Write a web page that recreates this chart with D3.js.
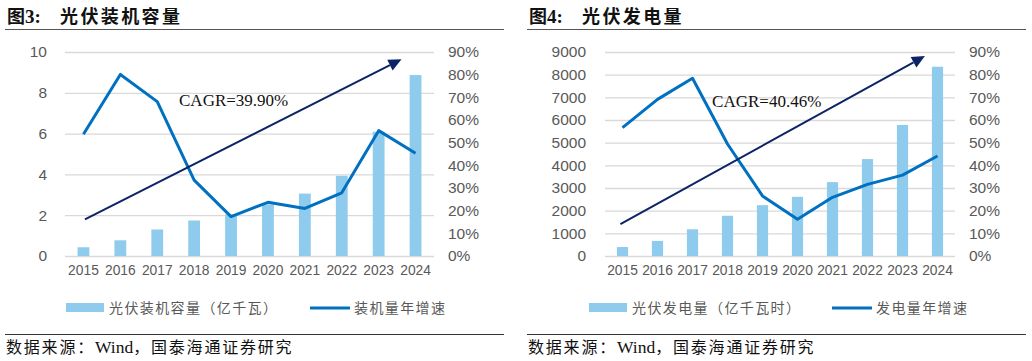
<!DOCTYPE html>
<html>
<head>
<meta charset="utf-8">
<script src="https://cdn.jsdelivr.net/npm/d3@7"></script>
<style>
  body { margin: 0; background: #fff; }
</style>
</head>
<body>
<script>
// ---- data ----
var years = ["2015","2016","2017","2018","2019","2020","2021","2022","2023","2024"];
var capacity = [0.43, 0.77, 1.30, 1.74, 2.04, 2.53, 3.06, 3.93, 6.09, 8.87];           // 亿千瓦
var capacityGrowth = [0.537, 0.801, 0.681, 0.335, 0.174, 0.237, 0.210, 0.279, 0.553, 0.453];
var generation = [395, 665, 1178, 1775, 2243, 2611, 3259, 4276, 5779, 8350];           // 亿千瓦时
var generationGrowth = [0.566, 0.691, 0.784, 0.494, 0.265, 0.162, 0.259, 0.316, 0.357, 0.441];
var capTicks = [0, 2, 4, 6, 8, 10];
var genTicks = [0, 1000, 2000, 3000, 4000, 5000, 6000, 7000, 8000, 9000];
var pctTicks = [0, 0.1, 0.2, 0.3, 0.4, 0.5, 0.6, 0.7, 0.8, 0.9];
// CAGR arrows: [category index, left-axis value]
var capArrow = [[0.04, 1.8], [8.62, 9.64]];
var genArrow = [[-0.06, 1411], [8.64, 8822]];
var capCagr = {text: "CAGR=39.90%", at: [2.59, 7.37]};
var genCagr = {text: "CAGR=40.46%", at: [2.56, 6586]};

var barColor = "#8fcbec", lineColor = "#0070c0", arrowColor = "#0c2466", gridColor = "#d9d9d9", tickColor = "#595959";

var svg = d3.select("body").append("svg")
	.attr("width", 1032)
	.attr("height", 361);
svg.append("rect").attr("width", 1032).attr("height", 361).attr("fill", "#fff");

//--------------------------------drawPanel()---------------------------------
function drawPanel(o) {
	var g = svg.append("g");

	// title + rules
	var title = g.append("text")
		.attr("x", o.left + 2).attr("y", 23)
		.attr("font-size", 18).attr("font-weight", "bold").attr("fill", "#111");
	title.append("tspan").style("font-family", "Noto Sans CJK SC").text("图");
	title.append("tspan").style("font-family", "Liberation Serif").attr("font-size", 19).text(o.num + ":");
	title.append("tspan").attr("x", o.left + 55).style("font-family", "Noto Sans CJK SC")
		.attr("letter-spacing", 2.4).text(o.title);
	g.append("line").attr("x1", o.left).attr("x2", o.left + 499).attr("y1", 29.5).attr("y2", 29.5)
		.attr("stroke", "#555").attr("stroke-width", 1.2);
	g.append("line").attr("x1", o.left).attr("x2", o.left + 499).attr("y1", 334.5).attr("y2", 334.5)
		.attr("stroke", "#333").attr("stroke-width", 1.2);
	var src = g.append("text").attr("x", o.left + 1).attr("y", 353).attr("font-size", 16).attr("fill", "#111");
	src.append("tspan").style("font-family", "Noto Sans CJK SC").attr("letter-spacing", 1.8).text("数据来源：");
	src.append("tspan").style("font-family", "Liberation Serif").attr("font-size", 17.5).text("Wind");
	src.append("tspan").style("font-family", "Noto Sans CJK SC").attr("letter-spacing", 1.8).text("，国泰海通证券研究");

	// scales
	var x = d3.scaleBand().domain(years).range([o.x0, o.x1]).paddingInner(0.68).paddingOuter(0.34);
	var xi = d3.scaleLinear().domain([0, 1])
		.range([x(years[0]) + x.bandwidth() / 2, x(years[1]) + x.bandwidth() / 2]);
	var yL = d3.scaleLinear().domain(o.yDomain).range([256, 52]);
	var yR = d3.scaleLinear().domain([0, 0.9]).range([256, 52]);

	// gridlines
	g.selectAll(".grid").data(o.ticks).join("line")
		.attr("x1", o.x0).attr("x2", o.x1)
		.attr("y1", d => yL(d) + 0.5).attr("y2", d => yL(d) + 0.5)
		.attr("stroke", gridColor).attr("stroke-width", 1.3);

	// axes (text only)
	var axL = g.append("g").attr("transform", "translate(" + o.x0 + ",0)")
		.call(d3.axisLeft(yL).tickValues(o.ticks).tickSize(0).tickPadding(o.leftPad).tickFormat(d3.format("d")));
	var axR = g.append("g").attr("transform", "translate(" + o.x1 + ",0)")
		.call(d3.axisRight(yR).tickValues(pctTicks).tickSize(0).tickPadding(14).tickFormat(d3.format(".0%")));
	var axB = g.append("g").attr("transform", "translate(0,256)")
		.call(d3.axisBottom(x).tickSize(0).tickPadding(9));
	[axL, axR, axB].forEach(a => {
		a.select(".domain").remove();
		a.selectAll("text").attr("fill", tickColor).style("font-family", "Liberation Sans");
	});
	axL.selectAll("text").attr("font-size", 15.5);
	axR.selectAll("text").attr("font-size", 15.5);
	axB.selectAll("text").attr("font-size", 13.8);

	// bars
	g.selectAll(".bar").data(o.bars).join("rect")
		.attr("x", (d, i) => x(years[i]))
		.attr("width", x.bandwidth())
		.attr("y", d => yL(d))
		.attr("height", d => yL(0) - yL(d))
		.attr("fill", barColor);

	// growth line
	g.append("path")
		.datum(o.growth)
		.attr("d", d3.line().x((d, i) => x(years[i]) + x.bandwidth() / 2).y(d => yR(d)))
		.attr("fill", "none").attr("stroke", lineColor).attr("stroke-width", 3).attr("stroke-linejoin", "round");

	// CAGR arrow
	var p0 = [xi(o.arrow[0][0]), yL(o.arrow[0][1])];
	var p1 = [xi(o.arrow[1][0]), yL(o.arrow[1][1])];
	var ang = Math.atan2(p1[1] - p0[1], p1[0] - p0[0]);
	var headLen = 13, headW = 6;
	var base = [p1[0] - headLen * Math.cos(ang), p1[1] - headLen * Math.sin(ang)];
	g.append("line").attr("x1", p0[0]).attr("y1", p0[1]).attr("x2", base[0]).attr("y2", base[1])
		.attr("stroke", arrowColor).attr("stroke-width", 2);
	g.append("path")
		.attr("d", "M" + p1[0] + "," + p1[1] +
			"L" + (base[0] + headW * Math.sin(ang)) + "," + (base[1] - headW * Math.cos(ang)) +
			"L" + (base[0] - headW * Math.sin(ang)) + "," + (base[1] + headW * Math.cos(ang)) + "Z")
		.attr("fill", arrowColor);
	g.append("text")
		.attr("x", xi(o.cagr.at[0])).attr("y", yL(o.cagr.at[1]))
		.style("font-family", "Liberation Serif").attr("font-size", 17).attr("fill", "#111")
		.text(o.cagr.text);

	// legend
	var lg = g.append("g").style("font-family", "Noto Sans CJK SC").attr("font-size", 14).attr("fill", tickColor);
	lg.append("rect").attr("x", o.leg[0]).attr("y", 303).attr("width", 38).attr("height", 9).attr("fill", barColor);
	lg.append("text").attr("x", o.leg[0] + 43).attr("y", 313).attr("letter-spacing", 1.4).text(o.legText[0]);
	lg.append("line").attr("x1", o.leg[1]).attr("x2", o.leg[1] + 40).attr("y1", 308).attr("y2", 308)
		.attr("stroke", lineColor).attr("stroke-width", 3);
	lg.append("text").attr("x", o.leg[1] + 44).attr("y", 313).attr("letter-spacing", 1.4).text(o.legText[1]);
}
//------------------------------------------------------------------------------------

drawPanel({
	left: 5, num: "3", title: "光伏装机容量",
	x0: 65, x1: 434, leftPad: 18, yDomain: [0, 10], ticks: capTicks,
	bars: capacity, growth: capacityGrowth, arrow: capArrow, cagr: capCagr,
	leg: [66, 310], legText: ["光伏装机容量（亿千瓦）", "装机量年增速"]
});

drawPanel({
	left: 527, num: "4", title: "光伏发电量",
	x0: 605, x1: 955, leftPad: 19, yDomain: [0, 9000], ticks: genTicks,
	bars: generation, growth: generationGrowth, arrow: genArrow, cagr: genCagr,
	leg: [589, 832], legText: ["光伏发电量（亿千瓦时）", "发电量年增速"]
});
</script>
</body>
</html>
